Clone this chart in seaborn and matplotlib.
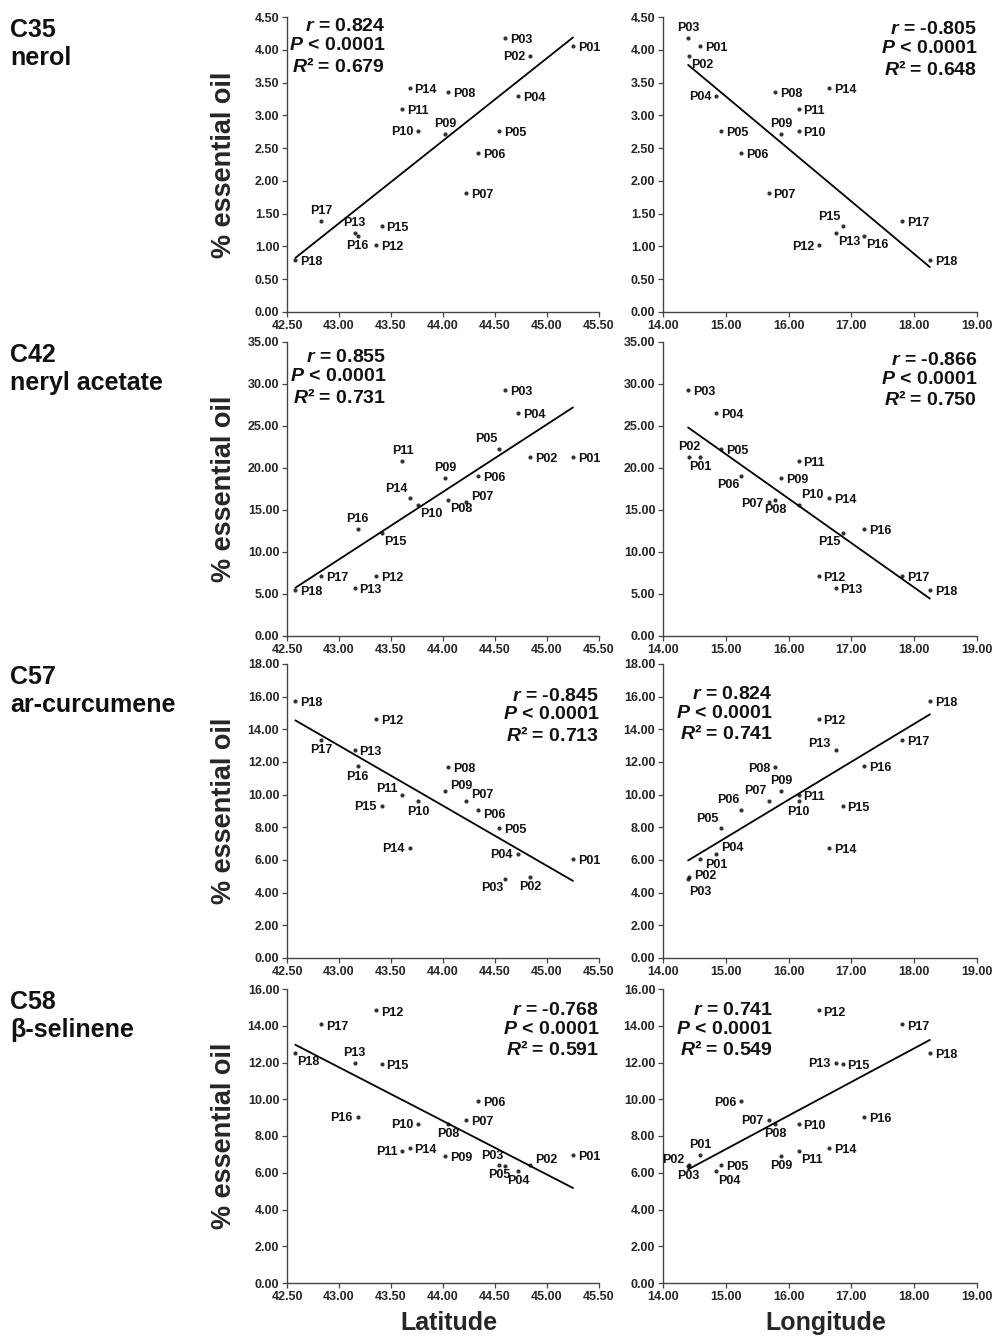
import numpy as np
import pandas as pd
import matplotlib
matplotlib.use("Agg")
import matplotlib.pyplot as plt
from matplotlib.ticker import FormatStrFormatter, MultipleLocator
import seaborn as sns

# ---------------- data ----------------
populations = ["P01", "P02", "P03", "P04", "P05", "P06", "P07", "P08", "P09",
               "P10", "P11", "P12", "P13", "P14", "P15", "P16", "P17", "P18"]
latitude = [45.25, 44.84, 44.60, 44.72, 44.54, 44.34, 44.22, 44.05, 44.02,
            43.76, 43.61, 43.36, 43.15, 43.68, 43.41, 43.18, 42.83, 42.58]
longitude = [14.59, 14.42, 14.40, 14.85, 14.92, 15.25, 15.68, 15.79, 15.88,
             16.16, 16.16, 16.48, 16.75, 16.65, 16.86, 17.20, 17.81, 18.25]
nerol = [4.06, 3.91, 4.18, 3.30, 2.76, 2.43, 1.82, 3.36, 2.71,
         2.76, 3.10, 1.02, 1.21, 3.42, 1.31, 1.16, 1.39, 0.80]
neryl_acetate = [21.3, 21.3, 29.3, 26.5, 22.3, 19.1, 15.9, 16.2, 18.8,
                 15.6, 20.8, 7.1, 5.7, 16.4, 12.3, 12.7, 7.1, 5.5]
ar_curcumene = [6.06, 4.94, 4.84, 6.39, 7.96, 9.08, 9.63, 11.67, 10.20,
                9.59, 10.00, 14.65, 12.76, 6.73, 9.33, 11.73, 13.33, 15.76]
beta_selinene = [6.95, 6.40, 6.38, 6.08, 6.41, 9.89, 8.89, 8.66, 6.90,
                 8.66, 7.21, 14.83, 11.98, 7.35, 11.94, 9.06, 14.07, 12.52]

compound_titles = ["C35\nnerol", "C42\nneryl acetate", "C57\nar-curcumene", "C58\nβ-selinene"]
compound_values = [nerol, neryl_acetate, ar_curcumene, beta_selinene]
y_maxima = [4.5, 35.0, 18.0, 16.0]
y_steps = [0.5, 5.0, 2.0, 2.0]

stats_lat = [("0.824", "0.679"), ("0.855", "0.731"), ("-0.845", "0.713"), ("-0.768", "0.591")]
stats_lon = [("-0.805", "0.648"), ("-0.866", "0.750"), ("0.824", "0.741"), ("0.741", "0.549")]

# ---------------- layout / style ----------------
sns.set_theme(style="ticks")
plt.rcParams["font.family"] = ["Liberation Sans", "DejaVu Sans"]
plt.rcParams["mathtext.fontset"] = "custom"
plt.rcParams["mathtext.it"] = "Liberation Sans:italic:bold"
plt.rcParams["mathtext.rm"] = "Liberation Sans:bold"
plt.rcParams["mathtext.bf"] = "Liberation Sans:bold"

W, H = 995, 1340
fig = plt.figure(figsize=(W / 100, H / 100), dpi=100)

col_px = [(287, 599), (663, 977)]
row_px = [(17, 312), (342, 636), (664, 958), (989, 1283)]

# label placements: code -> (dx, dy, ha, va) in points
PLACE = {
    "r": (3.5, -1.5, "left", "center"),
    "r0": (3.5, 1.0, "left", "center"),
    "ru": (3.5, 4.0, "left", "center"),
    "rd": (3.5, -4.0, "left", "center"),
    "l": (-3.5, -1.0, "right", "center"),
    "lu": (-3.5, 4.0, "right", "center"),
    "a": (0, 3.0, "center", "bottom"),
    "b": (0, -3.0, "center", "top"),
    "al": (-1.5, 2.5, "right", "bottom"),
    "ar": (1.5, 2.5, "left", "bottom"),
    "bl": (-1.5, -2.5, "right", "top"),
    "br": (1.5, -2.5, "left", "top"),
    "bb": (0.5, -5.0, "left", "top"),
}
label_pos = [
    [  # nerol
        {"P02": "l", "P09": "a", "P10": "l", "P13": "a", "P16": "b", "P17": "a"},
        {"P02": "br", "P03": "a", "P04": "l", "P09": "a", "P12": "l", "P13": "br",
         "P15": "al", "P16": "br"},
    ],
    [  # neryl acetate
        {"P05": "al", "P07": "ru", "P08": "br", "P09": "a", "P10": "br", "P11": "a",
         "P14": "al", "P15": "br", "P16": "a"},
        {"P01": "b", "P02": "a", "P06": "bl", "P07": "l", "P08": "b", "P10": "ar",
         "P15": "bl"},
    ],
    [  # ar-curcumene
        {"P02": "b", "P03": "bl", "P04": "l", "P06": "rd", "P07": "ru", "P09": "ru",
         "P10": "b", "P11": "lu", "P14": "l", "P15": "l", "P16": "b", "P17": "b"},
        {"P01": "rd", "P02": "r0", "P03": "bb", "P04": "ru", "P05": "al", "P06": "al",
         "P07": "al", "P08": "l", "P09": "a", "P10": "b", "P13": "lu"},
    ],
    [  # beta-selinene
        {"P02": "ru", "P03": "al", "P04": "b", "P05": "b", "P08": "b", "P10": "l",
         "P11": "l", "P13": "a", "P16": "l", "P18": "br"},
        {"P01": "a", "P02": "lu", "P03": "b", "P04": "br", "P06": "l", "P07": "l",
         "P08": "b", "P09": "b", "P11": "br", "P13": "l"},
    ],
]
# stats text anchor (axes fraction x of right edge, top y)
stats_anchor = [
    [(0.315, 0.995), (1.0, 0.985)],
    [(0.318, 0.975), (1.0, 0.965)],
    [(1.0, 0.92), (0.35, 0.925)],
    [(1.0, 0.955), (0.35, 0.955)],
]

for i in range(4):
    y0, y1 = row_px[i]
    for j in range(2):
        x0, x1 = col_px[j]
        ax = fig.add_axes([x0 / W, 1 - y1 / H, (x1 - x0) / W, (y1 - y0) / H])
        xs = latitude if j == 0 else longitude
        df = pd.DataFrame({"x": xs, "y": compound_values[i], "pop": populations})
        sns.regplot(data=df, x="x", y="y", ax=ax, ci=None, color="black",
                    scatter_kws={"s": 9, "linewidths": 0},
                    line_kws={"lw": 1.3})
        if j == 0:
            ax.set_xlim(42.5, 45.5)
            ax.xaxis.set_major_locator(MultipleLocator(0.5))
        else:
            ax.set_xlim(14.0, 19.0)
            ax.xaxis.set_major_locator(MultipleLocator(1.0))
        ax.set_ylim(0, y_maxima[i])
        ax.yaxis.set_major_locator(MultipleLocator(y_steps[i]))
        ax.xaxis.set_major_formatter(FormatStrFormatter("%.2f"))
        ax.yaxis.set_major_formatter(FormatStrFormatter("%.2f"))
        for sp in ["top", "right"]:
            ax.spines[sp].set_visible(False)
        for sp in ["left", "bottom"]:
            ax.spines[sp].set_color("#444444")
            ax.spines[sp].set_linewidth(1.0)
        ax.tick_params(axis="both", direction="out", length=3.5, width=0.9,
                       color="#444444", labelsize=9, pad=2)
        for lab in ax.get_xticklabels() + ax.get_yticklabels():
            lab.set_fontweight("bold")

        # point labels
        for _, row in df.iterrows():
            code = label_pos[i][j].get(row["pop"], "r")
            dx, dy, ha, va = PLACE[code]
            ax.annotate(row["pop"], (row["x"], row["y"]), xytext=(dx, dy),
                        textcoords="offset points", ha=ha, va=va,
                        fontsize=9, fontweight="bold", color="#111111")

        # stats text
        r_txt, r2_txt = (stats_lat if j == 0 else stats_lon)[i]
        ax_x, ax_y = stats_anchor[i][j]
        ax.text(ax_x, ax_y,
                f"$r$ = {r_txt}\n$P$ < 0.0001\n$R$² = {r2_txt}",
                transform=ax.transAxes, ha="right", va="top",
                multialignment="right", fontsize=14, fontweight="bold",
                linespacing=1.15, color="#111111")

        ax.set_xlabel("")
        ax.set_ylabel("")
        if j == 0:
            ax.set_ylabel("% essential oil", fontsize=19.5, fontweight="bold")
            ax.yaxis.set_label_coords(-0.16, 0.5)
        if i == 3:
            ax.set_xlabel("Latitude" if j == 0 else "Longitude",
                          fontsize=18, fontweight="bold")
            ax.xaxis.set_label_coords(0.52, -0.095)
            ax.xaxis.label.set_va("top")

    fig.text(10 / W, 1 - (y0 + 1) / H, compound_titles[i], ha="left", va="top",
             fontsize=18, fontweight="bold", linespacing=1.2, color="#111111")

fig.savefig("out.png", dpi=100)
